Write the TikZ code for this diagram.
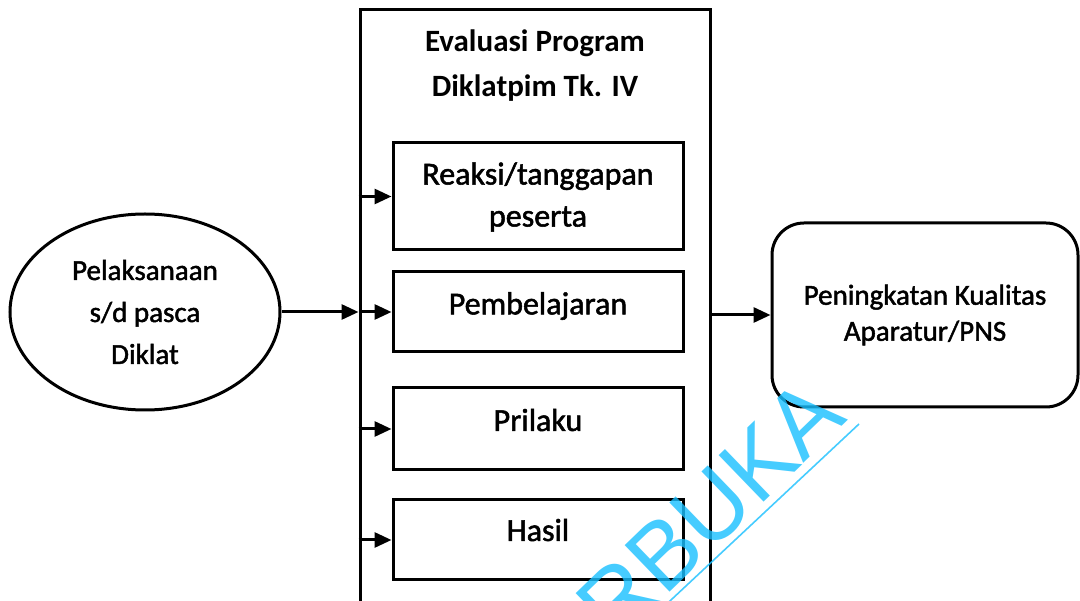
\documentclass[tikz,border=0pt]{standalone}
\usepackage{fontspec}
\setmainfont{Carlito}
\newfontfamily\semib[FakeBold=1.6]{Carlito}
\newfontfamily\wmfont{Liberation Sans}
\usetikzlibrary{shapes.geometric,arrows.meta}
\definecolor{wmc}{RGB}{24,192,255}
\tikzset{
  ln/.style={line width=3pt},
  subbox/.style={ln, draw, rectangle, minimum width=290pt, inner sep=0pt},
  lbl/.style={align=center, inner sep=0pt, font=\semib\fontsize{32}{42}\selectfont},
  arr/.style={ln, -{Triangle[length=17pt,width=15pt]}},
}
\begin{document}
\begin{tikzpicture}[x=1pt,y=-1pt]
\useasboundingbox (0,0) rectangle (1080,601);
\clip (0,0) rectangle (1080,601);
\fill[white] (0,0) rectangle (1080,601);

% left ellipse
\node[ln, draw, ellipse, minimum width=270pt, minimum height=196pt, inner sep=0pt,
      align=center, font=\semib\fontsize{29}{42}\selectfont] (ell) at (145,312)
      {Pelaksanaan\\s/d pasca\\Diklat};

% big evaluation box
\node[ln, draw, rectangle, minimum width=350pt, minimum height=640pt, inner sep=0pt] (eval) at (535,330) {};
\node[align=center, inner sep=0pt, font=\bfseries\fontsize{31}{45}\selectfont] (title) at (535,66)
      {Evaluasi Program\\Diklatpim Tk. IV};

% sub boxes
\node[subbox, minimum height=107pt] (b1) at (538,196.5) {};
\node[subbox, minimum height=80pt] (b2) at (538,312) {};
\node[subbox, minimum height=82pt] (b3) at (538,429) {};
\node[subbox, minimum height=80pt] (b4) at (538,540) {};
\node[lbl] (t1) at (538,197) {Reaksi/tanggapan\\peserta};
\node[lbl] (t2) at (538,306) {Pembelajaran};
\node[lbl] (t3) at (538,420) {Prilaku};
\node[lbl] (t4) at (538,530) {Hasil};

% result box
\node[ln, draw, rectangle, rounded corners=32pt, minimum width=306pt, minimum height=184pt,
      inner sep=0pt, align=center, font=\semib\fontsize{29}{36}\selectfont] (res) at (925,315)
      {Peningkatan Kualitas\\Aparatur/PNS};

% connectors
\coordinate (in) at (eval.west |- b2.west);
\draw[arr] (ell.east) -- (in);
\draw[arr] (in) -- (b2.west);
\draw[arr] (eval.west |- b1.west) -- (b1.west);
\draw[arr] (eval.west |- b3.west) -- (b3.west);
\draw[arr] (eval.west |- b4.west) -- (b4.west);
\draw[arr] (eval.east |- res.west) -- (res.west);

% watermark
\node[rotate=44, anchor=base east, inner sep=0pt, text=wmc, opacity=0.8,
      font=\wmfont\fontsize{94}{94}\selectfont] (wm) at (849,420) {RBUKA};
\coordinate (u1) at (859,424);
\coordinate (u2) at (640,629);
\draw[wmc, opacity=0.8, line width=1.6pt] (u1) -- (u2);
\end{tikzpicture}
\end{document}
